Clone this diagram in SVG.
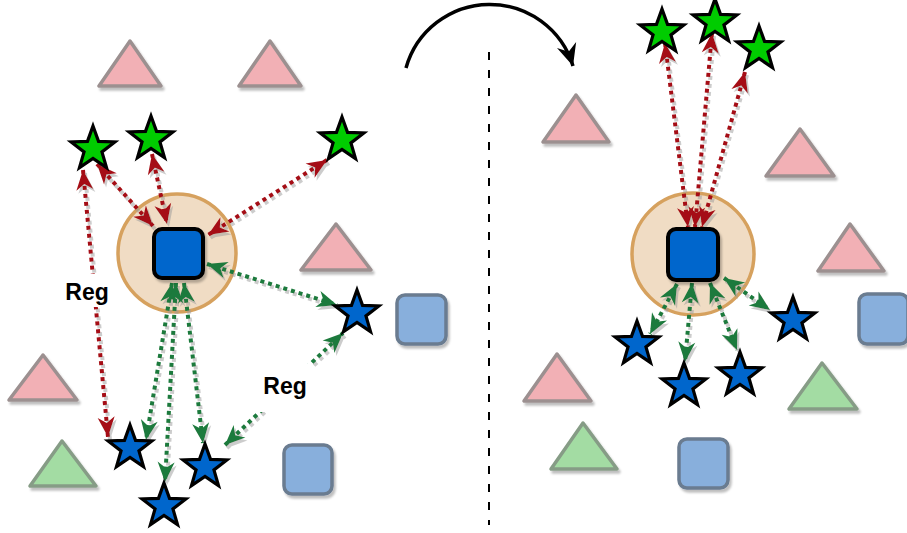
<svg xmlns="http://www.w3.org/2000/svg" xmlns:xlink="http://www.w3.org/1999/xlink" width="907" height="533" viewBox="0 0 907 533">
<style>
.pink{fill:#f2b0b5;stroke:#9c9090;stroke-width:3.5;stroke-linejoin:round}
.gtri{fill:#a3dca3;stroke:#869c86;stroke-width:3.5;stroke-linejoin:round}
.lsq{fill:#88afdc;stroke:#6a7b90;stroke-width:3.5}
.dsq{fill:#0066cc;stroke:#000;stroke-width:4}
.halo{fill:#f0dcc4;stroke:#d6a15e;stroke-width:3.5}
.gstar{fill:#00cc00;stroke:#000;stroke-width:3.2;stroke-linejoin:miter}
.bstar{fill:#0066cc;stroke:#000;stroke-width:3.2;stroke-linejoin:miter}
.red{fill:none;stroke:#a50f15;stroke-width:4;stroke-dasharray:4 4;marker-start:url(#ar);marker-end:url(#ar)}
.grn{fill:none;stroke:#1d7a3c;stroke-width:4;stroke-dasharray:4 4;marker-start:url(#ag);marker-end:url(#ag)}
.lbl{font-family:"Liberation Sans",Arial,sans-serif;font-weight:bold;font-size:23px;fill:#000;text-anchor:middle}
</style>
<defs>
<filter id="sh" x="-20%" y="-20%" width="150%" height="150%">
<feDropShadow dx="2" dy="3" stdDeviation="1" flood-color="#000" flood-opacity="0.25"/>
</filter>
<filter id="lsh" x="-20%" y="-20%" width="150%" height="150%">
<feDropShadow dx="2" dy="3" stdDeviation="0.4" flood-color="#9a9a9a" flood-opacity="0.5"/>
</filter>
<path id="star" d="M0,-23 L5.53,-7.61 L21.87,-7.11 L8.95,2.91 L13.52,18.61 L0,9.4 L-13.52,18.61 L-8.95,2.91 L-21.87,-7.11 L-5.53,-7.61 Z"/>
<marker id="ar" viewBox="-21 -9 22 18" refX="0" refY="0" markerWidth="22" markerHeight="18" markerUnits="userSpaceOnUse" orient="auto-start-reverse">
<path d="M0,0 L-20,-8.5 L-14,0 L-20,8.5 Z" fill="#a50f15"/>
</marker>
<marker id="ag" viewBox="-21 -9 22 18" refX="0" refY="0" markerWidth="22" markerHeight="18" markerUnits="userSpaceOnUse" orient="auto-start-reverse">
<path d="M0,0 L-20,-8.5 L-14,0 L-20,8.5 Z" fill="#1d7a3c"/>
</marker>
<marker id="ab" viewBox="-24 -11 25 22" refX="0" refY="0" markerWidth="25" markerHeight="22" markerUnits="userSpaceOnUse" orient="auto">
<path d="M0,0 L-22,-10 L-15,0 L-22,10 Z" fill="#000"/>
</marker>
</defs>
<rect width="907" height="533" fill="#fff"/>

<g id="divider">
<line x1="489" y1="52" x2="489" y2="525" stroke="#000" stroke-width="2" stroke-dasharray="8 10"/>
</g>
<g id="flip-arrow">
<path d="M406,68 A87,87 0 0,1 573,66" fill="none" stroke="#000" stroke-width="3.5" marker-end="url(#ab)"/>
</g>

<g id="background-shapes" filter="url(#sh)">
<g id="tri1"><polygon class="pink" points="130,41 99,86 161,86"/></g>
<g id="tri2"><polygon class="pink" points="270,41 239,86 301,86"/></g>
<g id="tri3"><polygon class="pink" points="336,224 301,270 371,270"/></g>
<g id="tri4"><polygon class="pink" points="43,355 9,400 77,400"/></g>
<g id="tri5"><polygon class="gtri" points="62,441 30,486 96,486"/></g>
<g id="sq1"><rect class="lsq" x="284" y="445" width="48" height="49" rx="8"/></g>
<g id="sq2"><rect class="lsq" x="397" y="295" width="49" height="49" rx="8"/></g>
<g id="tri6"><polygon class="pink" points="576,95 543,142 609,142"/></g>
<g id="tri7"><polygon class="pink" points="800,129 766,176 834,176"/></g>
<g id="tri8"><polygon class="pink" points="850,224 818,271 884,271"/></g>
<g id="tri9"><polygon class="pink" points="557,354 524,401 591,401"/></g>
<g id="tri10"><polygon class="gtri" points="583,423 551,469 617,469"/></g>
<g id="tri11"><polygon class="gtri" points="822,363 789,409 857,409"/></g>
<g id="sq3"><rect class="lsq" x="679" y="439" width="49" height="49" rx="8"/></g>
<g id="sq4"><rect class="lsq" x="859" y="294" width="49" height="50" rx="8"/></g>
</g>

<g id="halo-left"><circle class="halo" cx="177" cy="253" r="59"/></g>
<g id="halo-right"><circle class="halo" cx="693" cy="254" r="61"/></g>

<g id="connectors" filter="url(#lsh)">
<path class="red" d="M83,170 L108,437"/>
<path class="red" d="M97,164 L153,226"/>
<path class="red" d="M152,154 L167,224"/>
<path class="red" d="M327,160 L208,235"/>
<path class="grn" d="M207,264 L337,305"/>
<path class="grn" d="M225,445 L343,333"/>
<path class="grn" d="M172,283 L146,440"/>
<path class="grn" d="M176,283 L165,482"/>
<path class="grn" d="M184,283 L203,443"/>
<path class="red" d="M665,43 L688,227"/>
<path class="red" d="M712,33 L695,227"/>
<path class="red" d="M745,72 L702,227"/>
<path class="grn" d="M677,284 L650,334"/>
<path class="grn" d="M692,283 L685,362"/>
<path class="grn" d="M710,283 L737,350"/>
<path class="grn" d="M724,278 L770,310"/>
</g>

<g id="labels">
<g id="reg1"><rect x="61" y="274" width="52" height="33" fill="#fff"/><text class="lbl" x="87" y="300">Reg</text></g>
<g id="reg2"><rect x="258" y="364" width="55" height="48" fill="#fff"/><text class="lbl" x="285" y="394">Reg</text></g>
</g>

<g id="center-left" filter="url(#sh)"><rect class="dsq" x="154" y="229" width="49" height="49" rx="8"/></g>
<g id="center-right" filter="url(#sh)"><rect class="dsq" x="668" y="229" width="50" height="51" rx="8"/></g>

<g id="stars">
<g id="gs1"><use href="#star" class="gstar" transform="translate(93,149)"/></g>
<g id="gs2"><use href="#star" class="gstar" transform="translate(151,139)"/></g>
<g id="gs3"><use href="#star" class="gstar" transform="translate(342,140)"/></g>
<g id="bs1"><use href="#star" class="bstar" transform="translate(130,448)"/></g>
<g id="bs2"><use href="#star" class="bstar" transform="translate(164,506)"/></g>
<g id="bs3"><use href="#star" class="bstar" transform="translate(205,467)"/></g>
<g id="bs4"><use href="#star" class="bstar" transform="translate(357,313)"/></g>
<g id="gs4"><use href="#star" class="gstar" transform="translate(662,32)"/></g>
<g id="gs5"><use href="#star" class="gstar" transform="translate(715,22)"/></g>
<g id="gs6"><use href="#star" class="gstar" transform="translate(759,49)"/></g>
<g id="bs5"><use href="#star" class="bstar" transform="translate(637,344)"/></g>
<g id="bs6"><use href="#star" class="bstar" transform="translate(684,386)"/></g>
<g id="bs7"><use href="#star" class="bstar" transform="translate(740,375)"/></g>
<g id="bs8"><use href="#star" class="bstar" transform="translate(793,320)"/></g>
</g>
</svg>
